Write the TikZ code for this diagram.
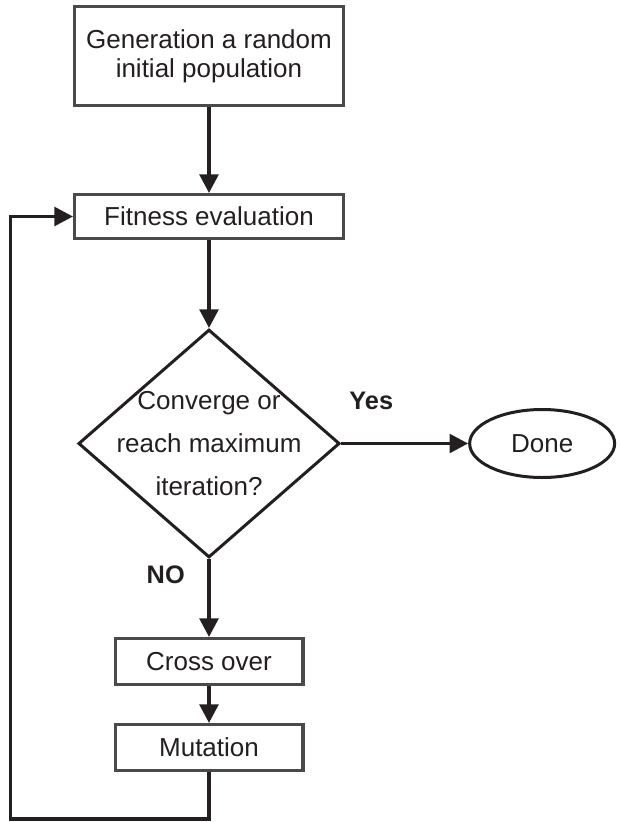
\documentclass[tikz,border=0pt]{standalone}
\usepackage{fontspec}
\setmainfont{Liberation Sans}
\usepackage{tikz}
\usetikzlibrary{arrows.meta, positioning, shapes.geometric}
\definecolor{ink}{HTML}{231F20}
\definecolor{boxline}{HTML}{4A4A4A}

\begin{document}
\begin{tikzpicture}[
  node distance=60pt,
  stepbox/.style={draw=boxline, line width=2.5pt, fill=white, align=center,
                  font=\fontsize{19.5}{21.75}\selectfont, text=ink},
  decision/.style={draw=ink, diamond, line width=2.25pt, inner sep=0pt,
                   minimum width=196pt, minimum height=171pt},
  terminal/.style={draw=ink, ellipse, line width=2.25pt, inner sep=0pt,
                   minimum width=108.75pt, minimum height=51pt,
                   font=\fontsize{19.5}{21.75}\selectfont, text=ink},
  tag/.style={inner sep=0pt, font=\fontsize{19}{21}\selectfont\bfseries, text=ink},
  arr/.style={-{Triangle[length=14pt, width=14pt]}, line width=2.75pt, color=ink}
]
  \useasboundingbox (0,0) rectangle (464.25pt,-616.5pt);

  % Main column
  \node[stepbox, minimum width=201.5pt, minimum height=74pt] at (156.75pt,-42pt)
    (init) {Generation a random\\initial population};
  \node[stepbox, minimum width=201.5pt, minimum height=32.75pt, below=64.5pt of init]
    (fitness) {Fitness evaluation};

  % Stopping test
  \node[decision, below=66pt of fitness,
        label={[align=center, text=ink,
                font=\fontsize{19.5}{32}\selectfont]center:Converge or\\reach maximum\\iteration?}]
    (check) {};
  \node[terminal, right=95.25pt of check] (done) {Done};

  \node[tag, above right=25pt and 6pt of check.east] (yes) {Yes};
  \node[tag, below left=5pt and 18pt of check.south] (no) {NO};

  % Operators
  \node[stepbox, minimum width=140.75pt, minimum height=34.25pt, below=58.5pt of check]
    (cross) {Cross over};
  \node[stepbox, minimum width=140.75pt, minimum height=34.25pt, below=27.75pt of cross]
    (mutation) {Mutation};

  \coordinate[left=47pt of fitness] (back);

  % Arrows
  \draw[arr] (init) -- (fitness);
  \draw[arr] (fitness) -- (check);
  \draw[arr] (check.east) -- (done.west);
  \draw[arr] (check.south) -- (cross);
  \draw[arr] (cross) -- (mutation);
  \draw[arr] (mutation.south) -- ++(0,-35pt) -| (back) -- (fitness.west);
\end{tikzpicture}
\end{document}
